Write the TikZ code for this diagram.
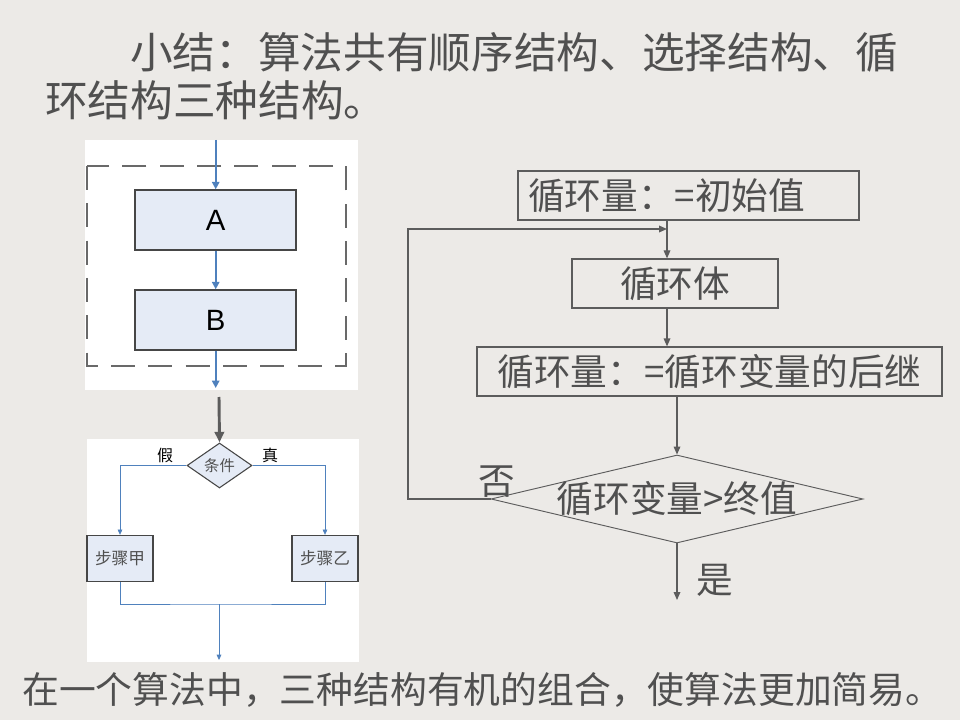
\documentclass[tikz,border=0pt]{standalone}
\usepackage{fontspec}
\setmainfont{Noto Sans CJK SC}
\newfontfamily\latinsans{Liberation Sans}
\usepackage{tikz}
\usetikzlibrary{positioning, arrows.meta, shapes.geometric}
\definecolor{paper}{RGB}{236,234,231}
\definecolor{ink}{RGB}{80,80,80}
\definecolor{edge}{RGB}{70,70,70}
\definecolor{pale}{RGB}{229,235,246}
\definecolor{blueln}{RGB}{79,129,189}
\definecolor{gline}{RGB}{92,92,92}
\definecolor{dashgrey}{RGB}{105,105,105}

\begin{document}
\begin{tikzpicture}[x=0.75pt, y=-0.75pt,
    txt/.style={inner sep=0pt, text=ink, anchor=west},
    blk/.style={draw=edge, fill=pale, line width=1.1pt, minimum width=120.75pt,
                minimum height=45pt, font=\latinsans\fontsize{22}{26}\selectfont, text=black},
    stepbox/.style={draw=edge, fill=pale, line width=1pt, minimum width=49.5pt,
                minimum height=34.5pt, inner sep=0pt, font=\fontsize{12.5}{14}\selectfont, text=ink},
    cond/.style={diamond, draw=edge, fill=pale, line width=0.8pt, aspect=1.44, inner sep=0pt,
                minimum width=48.75pt, minimum height=33.75pt, font=\fontsize{11.5}{13}\selectfont, text=ink},
    flow/.style={draw=gline, line width=0.9pt, text=ink, font=\fontsize{27.5}{30}\selectfont,
                minimum height=36.75pt, inner sep=0pt},
    test/.style={diamond, draw=gline, line width=0.7pt, minimum width=279pt,
                minimum height=66pt, inner sep=0pt},
    barr/.style={-{Triangle[length=5.5pt, width=5.5pt]}, draw=blueln, line width=1.3pt},
    thinb/.style={draw=blueln, line width=0.6pt},
    garr/.style={-{Triangle[length=6pt, width=5pt]}, draw=gline, line width=0.9pt}
  ]
  % page and panels
  \fill[paper] (0,0) rectangle (960,720);
  \fill[white] (85,140) rectangle (358,390);
  \fill[white] (87,439) rectangle (359,662);

  % heading and closing line
  \node[txt, font=\fontsize{32}{36}\selectfont] (head1) at (130,52) {小结：算法共有顺序结构、选择结构、循};
  \node[txt, font=\fontsize{32}{36}\selectfont] (head2) at (45,100) {环结构三种结构。};
  \node[txt, font=\fontsize{27.6}{30}\selectfont] (foot) at (22,690) {在一个算法中，三种结构有机的组合，使算法更加简易。};

  % sequence
  \draw[dashgrey, line width=2.2pt, dash pattern=on 18pt off 10pt] (87,166) rectangle (346,366);
  \node[blk] (A) at (215.7,220) {A};
  \node[blk] (B) at (215.7,320) {B};
  \coordinate (inA) at (215.7,140);
  \coordinate (outB) at (215.7,388);
  \draw[barr] (inA) -- (A);
  \draw[barr] (A) -- (B);
  \draw[barr] (B) -- (outB);

  % selection
  \node[cond] (cnd) at (219.5,465.5) {条件};
  \node[stepbox] (stepA) at (120,558.5) {步骤甲};
  \node[stepbox] (stepB) at (325,558.5) {步骤乙};
  \node[txt, anchor=center, font=\fontsize{12}{14}\selectfont, text=black] (no1) at (165,455) {假};
  \node[txt, anchor=center, font=\fontsize{12}{14}\selectfont, text=black] (yes1) at (270,455) {真};
  \coordinate (drop) at (219,397);
  \coordinate (merge) at (219,604);
  \coordinate (exit) at (219,660);
  \draw[-{Triangle[length=8pt, width=7pt]}, draw=gline, line width=2.2pt] (drop) -- (cnd.north);
  \draw[thinb, -{Triangle[length=4pt, width=3.5pt]}] (cnd.west) -| (stepA.north);
  \draw[thinb, -{Triangle[length=4pt, width=3.5pt]}] (cnd.east) -| (stepB.north);
  \draw[thinb] (stepA.south) |- (merge) -| (stepB.south);
  \draw[thinb, -{Triangle[length=4pt, width=3.5pt]}] (merge) -- (exit);

  % loop
  \node[flow, text width=240.75pt, inner xsep=7.5pt, align=left] (init) at (688.5,195.5) {循环量：=初始值};
  \node[flow, minimum width=154.5pt] (body) at (675,283.5) {循环体};
  \node[flow, minimum width=348.75pt] (next) at (709.5,371.5) {循环量：=循环变量的后继};
  \node[test, label={[text=ink, font=\fontsize{27.5}{30}\selectfont]center:循环变量>终值}] (chk) at (677,499) {};
  \node[txt, anchor=center, font=\fontsize{27.5}{30}\selectfont] (no2) at (497,482) {否};
  \node[txt, anchor=center, font=\fontsize{27.5}{30}\selectfont] (yes2) at (715,580) {是};
  \coordinate (join) at (667,229);
  \coordinate (back) at (408,229);
  \coordinate (stop) at (677,600);
  \draw[garr] (init.south -| join) -- (body.north -| join);
  \draw[garr] (body.south -| join) -- (next.north -| join);
  \draw[garr] (next.south -| chk.north) -- (chk.north);
  \draw[garr] (chk.west) -| (back) -- (join);
  \draw[garr] (chk.south) -- (stop);
\end{tikzpicture}
\end{document}
